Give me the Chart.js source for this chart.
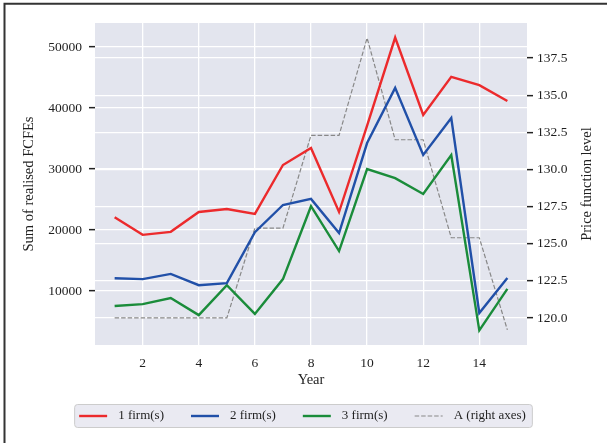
<!DOCTYPE html>
<html><head><meta charset="utf-8">
<script src="https://cdn.jsdelivr.net/npm/chart.js@4.4.0/dist/chart.umd.min.js"></script>
<style>html,body{margin:0;padding:0;background:#fff;}canvas{display:block;}</style>
</head><body>
<canvas id="c" width="607" height="443"></canvas>
<script>
const years = [1, 2, 3, 4, 5, 6, 7, 8, 9, 10, 11, 12, 13, 14, 15];
const firm1 = [22100, 19200, 19700, 22950, 23450, 22650, 30650, 33450, 22950, 37100, 51550, 38850, 45100, 43750, 41150];
const firm2 = [12100, 11950, 12800, 10950, 11300, 19650, 24100, 25100, 19500, 34250, 43300, 32300, 38350, 6400, 12150];
const firm3 = [7550, 7850, 8850, 6050, 10950, 6250, 11950, 23900, 16550, 30000, 28500, 25900, 32300, 3550, 10350];
const priceA = [120.0, 120.0, 120.0, 120.0, 120.0, 126.05, 126.05, 132.3, 132.3, 138.85, 132.0, 132.0, 125.4, 125.4, 119.2];
const xTicks = [2, 4, 6, 8, 10, 12, 14];
const leftTicks = [10000, 20000, 30000, 40000, 50000];
const rightTicks = [120, 122.5, 125, 127.5, 130, 132.5, 135, 137.5];
const seriesLabels = ['1 firm(s)', '2 firm(s)', '3 firm(s)', 'A (right axes)'];

const FAMILY = "'Liberation Serif', 'Times New Roman', serif";
Chart.defaults.font.family = FAMILY;
Chart.defaults.font.size = 13.5;
Chart.defaults.color = '#1f1f1f';

const toXY = arr => arr.map((v, i) => ({x: years[i], y: v}));

const bgPlugin = {
  id: 'bg',
  beforeDraw(chart) {
    const {ctx, chartArea: a} = chart;
    ctx.save();
    ctx.fillStyle = '#ffffff';
    ctx.fillRect(0, 0, chart.width, chart.height);
    ctx.fillStyle = '#E3E5EE';
    ctx.fillRect(a.left, a.top, a.right - a.left, a.bottom - a.top);
    ctx.strokeStyle = '#333333';
    ctx.lineWidth = 2;
    ctx.beginPath();
    ctx.moveTo(4.5, chart.height + 5);
    ctx.lineTo(4.5, 3.7);
    ctx.lineTo(chart.width + 5, 3.7);
    ctx.stroke();
    ctx.restore();
  }
};

const decorPlugin = {
  id: 'decor',
  afterDraw(chart) {
    const {ctx, chartArea: a} = chart;
    ctx.save();
    // right axis title (reads bottom to top)
    ctx.font = '14.5px ' + FAMILY;
    ctx.fillStyle = '#1f1f1f';
    ctx.translate(587, (a.top + a.bottom) / 2);
    ctx.rotate(-Math.PI / 2);
    ctx.textAlign = 'center';
    ctx.textBaseline = 'middle';
    ctx.fillText('Price function level', 0, 0);
    ctx.restore();

    // legend
    ctx.save();
    ctx.font = '13px ' + FAMILY;
    const ds = chart.data.datasets;
    const lineLen = 28, gapA = 11, gapB = 27, cy = 416;
    const widths = ds.map(d => ctx.measureText(d.label).width);
    const total = ds.length * (lineLen + gapA) + widths.reduce((s, w) => s + w, 0) + (ds.length - 1) * gapB;
    let x = 302.5 - total / 2;
    const bx = x - 4.5, by = 404.5, bw = total + 11, bh = 23, r = 3;
    ctx.beginPath();
    ctx.moveTo(bx + r, by);
    ctx.lineTo(bx + bw - r, by);
    ctx.quadraticCurveTo(bx + bw, by, bx + bw, by + r);
    ctx.lineTo(bx + bw, by + bh - r);
    ctx.quadraticCurveTo(bx + bw, by + bh, bx + bw - r, by + bh);
    ctx.lineTo(bx + r, by + bh);
    ctx.quadraticCurveTo(bx, by + bh, bx, by + bh - r);
    ctx.lineTo(bx, by + r);
    ctx.quadraticCurveTo(bx, by, bx + r, by);
    ctx.closePath();
    ctx.fillStyle = '#EAEAF2';
    ctx.fill();
    ctx.strokeStyle = '#CCCCCC';
    ctx.lineWidth = 1;
    ctx.stroke();
    ds.forEach((d, i) => {
      ctx.save();
      ctx.strokeStyle = d.borderColor;
      ctx.lineWidth = d.borderWidth;
      ctx.setLineDash(d.borderDash || []);
      ctx.beginPath();
      ctx.moveTo(x, cy);
      ctx.lineTo(x + lineLen, cy);
      ctx.stroke();
      ctx.restore();
      ctx.fillStyle = '#1f1f1f';
      ctx.textAlign = 'left';
      ctx.textBaseline = 'middle';
      ctx.fillText(d.label, x + lineLen + gapA, cy);
      x += lineLen + gapA + widths[i] + gapB;
    });
    ctx.restore();
  }
};

const gridOpts = {color: '#ffffff', lineWidth: 1.3, tickLength: 6, tickColor: '#222222', tickWidth: 1.5};

new Chart(document.getElementById('c'), {
  type: 'line',
  data: {
    datasets: [
      {label: seriesLabels[0], data: toXY(firm1), borderColor: '#EC2A2C', borderWidth: 2.4, yAxisID: 'y'},
      {label: seriesLabels[1], data: toXY(firm2), borderColor: '#2150A8', borderWidth: 2.4, yAxisID: 'y'},
      {label: seriesLabels[2], data: toXY(firm3), borderColor: '#1A8C3A', borderWidth: 2.4, yAxisID: 'y'},
      {label: seriesLabels[3], data: toXY(priceA), borderColor: '#888888', borderWidth: 1.2, borderDash: [4.5, 2], yAxisID: 'y1'}
    ]
  },
  options: {
    responsive: false,
    animation: false,
    devicePixelRatio: 1,
    layout: {padding: {left: 0, right: 0, top: 23, bottom: 38}},
    elements: {point: {radius: 0}, line: {tension: 0, fill: false}},
    plugins: {legend: {display: false}, tooltip: {enabled: false}},
    scales: {
      x: {
        type: 'linear', min: 0.3, max: 15.7,
        afterBuildTicks: s => { s.ticks = xTicks.map(v => ({value: v})); },
        afterFit: s => { s.height = 60; },
        ticks: {padding: 10, callback: v => String(v)},
        grid: {color: '#ffffff', lineWidth: 1.3, drawTicks: false},
        border: {display: false},
        title: {display: true, text: 'Year', font: {size: 14.5}, padding: {top: 0, bottom: 16.5}}
      },
      y: {
        position: 'left', min: 1150, max: 53930,
        afterBuildTicks: s => { s.ticks = leftTicks.map(v => ({value: v})); },
        afterFit: s => { s.width = 95; },
        ticks: {padding: 7, callback: v => String(v)},
        grid: gridOpts,
        border: {display: false},
        title: {display: true, text: 'Sum of realised FCFEs', font: {size: 14.5}, padding: {top: 20, bottom: 0}}
      },
      y1: {
        position: 'right', min: 118.18, max: 139.86,
        afterBuildTicks: s => { s.ticks = rightTicks.map(v => ({value: v})); },
        afterFit: s => { s.width = 80; },
        ticks: {padding: 4, callback: v => Number(v).toFixed(1)},
        grid: gridOpts,
        border: {display: false}
      }
    }
  },
  plugins: [bgPlugin, decorPlugin]
});
</script>
</body></html>
